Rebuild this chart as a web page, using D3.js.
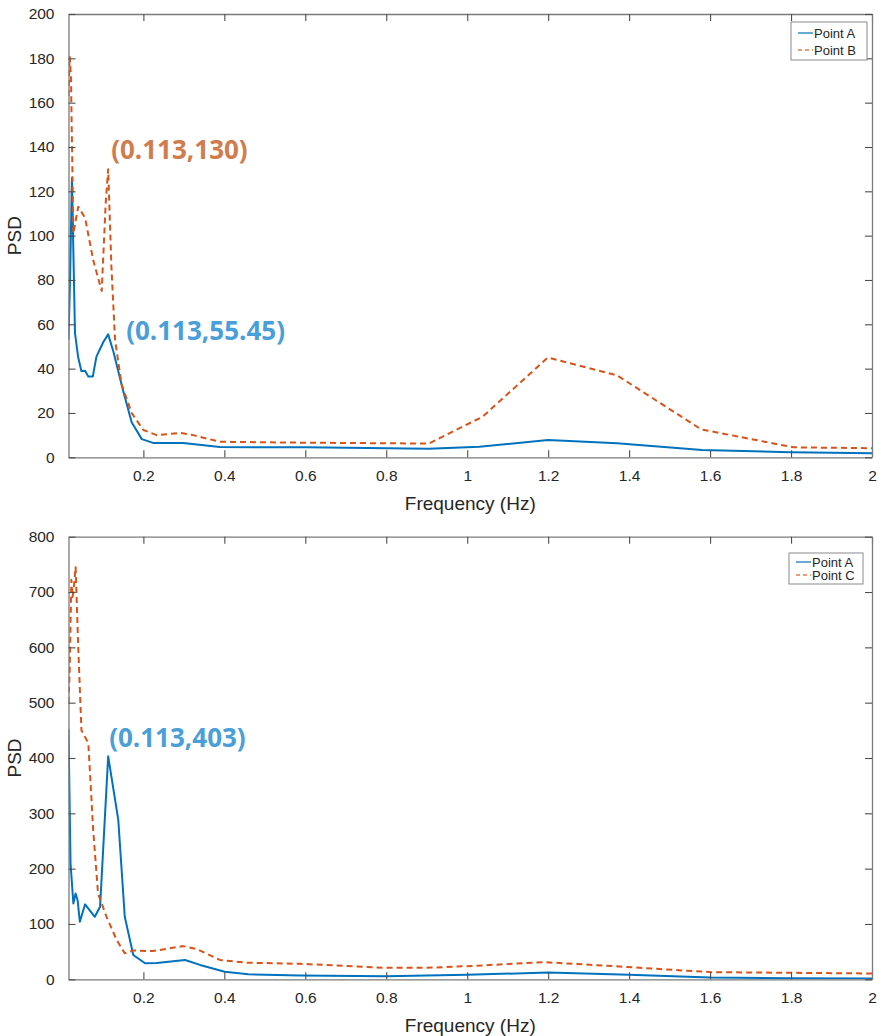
<!DOCTYPE html>
<html>
<head>
<meta charset="utf-8">
<script src="https://cdn.jsdelivr.net/npm/d3@7"></script>
<style>
  html, body { margin: 0; padding: 0; background: #fff; }
  svg { display: block; }
  .tick-label { font-family: "Liberation Sans", Arial, sans-serif; font-size: 15.5px; fill: #262626; }
  .axis-title { font-family: "Liberation Sans", Arial, sans-serif; font-size: 19px; fill: #262626; }
  .legend-text { font-family: "Liberation Sans", Arial, sans-serif; font-size: 13px; fill: #262626; }
  .peak-label { font-family: "Open Sans", "Noto Sans", sans-serif; font-weight: 700; font-size: 26px; }
</style>
</head>
<body>
<svg id="chart" width="882" height="1036"></svg>
<script>
// ---- Upper panel: Point A vs Point B ----
const freqA1 = [0.015, 0.019, 0.0235, 0.031, 0.039, 0.047, 0.056, 0.064, 0.075, 0.084, 0.101, 0.113, 0.126, 0.15, 0.171, 0.196, 0.224, 0.298, 0.389, 0.6, 0.905, 1.03, 1.2, 1.37, 1.58, 1.8, 2.0];
const psdA1  = [53, 82, 126, 56, 45, 38.8, 39, 36.4, 36.4, 45.4, 52, 55.45, 47.6, 30, 15.8, 8.2, 6.5, 6.5, 4.6, 4.5, 3.9, 4.8, 7.8, 6.3, 3.3, 2.3, 1.8];

const freqB = [0.015, 0.018, 0.021, 0.027, 0.039, 0.056, 0.076, 0.097, 0.107, 0.113, 0.121, 0.13, 0.146, 0.171, 0.2, 0.233, 0.29, 0.323, 0.389, 0.59, 0.905, 1.038, 1.199, 1.37, 1.578, 1.806, 2.0];
const psdB  = [163, 181, 172, 101, 113, 108, 89, 75, 115, 130, 86, 53, 33, 20, 12.3, 10, 11, 10, 7, 6.6, 6.2, 18.3, 45, 37, 12.6, 4.5, 4.1];

// ---- Lower panel: Point A vs Point C ----
const freqA2 = [0.015, 0.02, 0.027, 0.0325, 0.0375, 0.043, 0.056, 0.08, 0.093, 0.113, 0.138, 0.154, 0.175, 0.204, 0.233, 0.303, 0.34, 0.401, 0.459, 0.587, 0.8, 1.0, 1.2, 1.4, 1.6, 1.8, 2.0];
const psdA2  = [452, 210, 137, 155, 143, 104, 135.5, 113, 131, 403, 288, 113, 44, 29, 29.5, 35, 26, 13.8, 9, 7, 5.7, 8, 12.3, 8, 3.3, 2, 1.5];

const freqC = [0.015, 0.018, 0.022, 0.025, 0.028, 0.0326, 0.039, 0.047, 0.064, 0.076, 0.088, 0.109, 0.134, 0.154, 0.175, 0.224, 0.298, 0.331, 0.389, 0.455, 0.587, 0.8, 0.897, 1.0, 1.19, 1.39, 1.6, 1.8, 2.0];
const psdC  = [500, 560, 722, 691, 707, 745, 601, 450, 427, 270, 155, 113, 71, 47, 52, 51, 60, 55, 35, 30, 28, 20.7, 20.7, 23.7, 31, 22.5, 13, 11.7, 10.5];

// Axis ticks
const freqTicks = [0.2, 0.4, 0.6, 0.8, 1, 1.2, 1.4, 1.6, 1.8, 2];
const psdTicksTop = d3.range(0, 201, 20);
const psdTicksBottom = d3.range(0, 801, 100);

// Peak annotations
const peakFreq = 0.113;
const peakB = 130, peakA1 = 55.45, peakA2 = 403;

const BLUE = "#0072BD", ORANGE = "#D95319";
const LABEL_BLUE = "#4A9FD9", LABEL_ORANGE = "#D07C4C";

const svg = d3.select("#chart");
svg.append("rect").attr("width", 882).attr("height", 1036).attr("fill", "#fff");

const plotLeft = 68.5, plotRight = 872;

function panel(cfg) {
  const g = svg.append("g");
  const x = d3.scaleLinear().domain([0.015, 2]).range([plotLeft, plotRight]);
  const y = d3.scaleLinear().domain([0, cfg.yMax]).range([cfg.bottom, cfg.top]);
  const clipId = "clip" + cfg.id;
  svg.append("clipPath").attr("id", clipId)
    .append("rect").attr("x", plotLeft).attr("y", cfg.top)
    .attr("width", plotRight - plotLeft).attr("height", cfg.bottom - cfg.top);

  // spectra
  const line = d3.line().x(d => x(d[0])).y(d => y(d[1]));
  const lines = g.append("g").attr("clip-path", `url(#${clipId})`);
  cfg.series.forEach(s => {
    lines.append("path")
      .datum(d3.zip(s.f, s.v))
      .attr("d", line)
      .attr("fill", "none")
      .attr("stroke", s.color)
      .attr("stroke-width", 2)
      .attr("stroke-linejoin", "round")
      .attr("stroke-dasharray", s.dash ? "6,4" : null);
  });

  // box axes with inward ticks on all four sides
  const tickLen = 7;
  const axisColor = "#7a7a7a";
  const bottomAx = d3.axisBottom(x).tickValues(freqTicks).tickSizeInner(-tickLen).tickSizeOuter(0).tickPadding(13).tickFormat(d3.format("~g"));
  const topAx = d3.axisTop(x).tickValues(freqTicks).tickSizeInner(-tickLen).tickSizeOuter(0).tickFormat("");
  const leftAx = d3.axisLeft(y).tickValues(cfg.yTicks).tickSizeInner(-tickLen).tickSizeOuter(0).tickPadding(14).tickFormat(d3.format("d"));
  const rightAx = d3.axisRight(y).tickValues(cfg.yTicks).tickSizeInner(-tickLen).tickSizeOuter(0).tickFormat("");

  const axes = [
    g.append("g").attr("transform", `translate(0,${cfg.bottom})`).call(bottomAx),
    g.append("g").attr("transform", `translate(0,${cfg.top})`).call(topAx),
    g.append("g").attr("transform", `translate(${plotLeft},0)`).call(leftAx),
    g.append("g").attr("transform", `translate(${plotRight},0)`).call(rightAx)
  ];
  axes.forEach(a => {
    a.select(".domain").attr("stroke", axisColor).attr("stroke-width", 1.3);
    a.selectAll(".tick line").attr("stroke", "#4d4d4d").attr("stroke-width", 1.1);
    a.selectAll(".tick text").attr("class", "tick-label").attr("font-size", null).attr("font-family", null).attr("fill", null);
  });

  // axis titles
  g.append("text").attr("class", "axis-title")
    .attr("x", (plotLeft + plotRight) / 2).attr("y", cfg.bottom + 53)
    .attr("text-anchor", "middle").text("Frequency (Hz)");
  g.append("text").attr("class", "axis-title")
    .attr("transform", `translate(21,${(cfg.top + cfg.bottom) / 2}) rotate(-90)`)
    .attr("text-anchor", "middle").text("PSD");

  // legend
  const lg = g.append("g").attr("transform", `translate(${cfg.legend.x},${cfg.legend.y})`);
  lg.append("rect").attr("width", cfg.legend.w).attr("height", cfg.legend.h)
    .attr("fill", "#fff").attr("stroke", "#8a8a8a").attr("stroke-width", 1);
  cfg.series.forEach((s, i) => {
    const cy = cfg.legend.rowY[i];
    lg.append("line").attr("x1", 7).attr("x2", 22).attr("y1", cy).attr("y2", cy)
      .attr("stroke", s.color).attr("stroke-width", 1.6)
      .attr("stroke-dasharray", s.dash ? "4,3" : null).attr("opacity", 0.75);
    lg.append("text").attr("class", "legend-text").attr("x", 23).attr("y", cy + 4.7).text(s.name);
  });

  // peak annotations
  cfg.notes.forEach(n => {
    g.append("text").attr("class", "peak-label")
      .attr("x", x(n.f) + n.dx).attr("y", y(n.v) + n.dy)
      .attr("fill", n.color)
      .text(`(${n.f},${n.v})`);
  });
}

panel({
  id: "top", top: 14, bottom: 457.3, yMax: 200, yTicks: psdTicksTop,
  series: [
    { name: "Point A", f: freqA1, v: psdA1, color: BLUE, dash: false },
    { name: "Point B", f: freqB, v: psdB, color: ORANGE, dash: true }
  ],
  legend: { x: 791, y: 22, w: 76, h: 38, rowY: [11, 28] },
  notes: [
    { f: peakFreq, v: peakB, dx: 3, dy: -10, color: LABEL_ORANGE },
    { f: peakFreq, v: peakA1, dx: 18, dy: 6, color: LABEL_BLUE }
  ]
});

panel({
  id: "bottom", top: 536.7, bottom: 979.3, yMax: 800, yTicks: psdTicksBottom,
  series: [
    { name: "Point A", f: freqA2, v: psdA2, color: BLUE, dash: false },
    { name: "Point C", f: freqC, v: psdC, color: ORANGE, dash: true }
  ],
  legend: { x: 789, y: 553, w: 74, h: 31, rowY: [9, 22] },
  notes: [
    { f: peakFreq, v: peakA2, dx: 1, dy: -9, color: LABEL_BLUE }
  ]
});
</script>
</body>
</html>
